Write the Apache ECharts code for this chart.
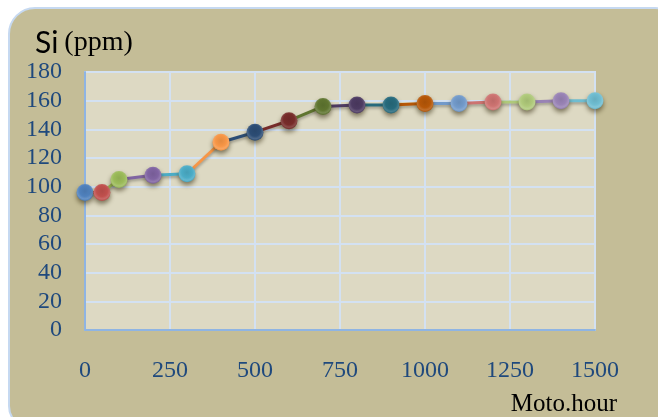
<!DOCTYPE html>
<html>
<head>
<meta charset="utf-8">
<script src="https://cdn.jsdelivr.net/npm/echarts@6/dist/echarts.min.js"></script>
<style>
  html, body { margin: 0; padding: 0; background: #ffffff; }
  #chart { width: 658px; height: 417px; }
</style>
</head>
<body>
<div id="chart"></div>
<script>
// Engine running hours and silicon concentration in the oil sample
const hours = [0, 50, 100, 200, 300, 400, 500, 600, 700, 800, 900, 1000, 1100, 1200, 1300, 1400, 1500];
const si = [96, 96, 105, 108, 109, 131, 138, 146, 156, 157, 157, 158, 158, 159, 159, 160, 160];
const xTicks = [0, 250, 500, 750, 1000, 1250, 1500];
const yTicks = [0, 20, 40, 60, 80, 100, 120, 140, 160, 180];

// Office palette, one colour per sample point
const pointColors = [
  '#4F81BD', '#C0504D', '#9BBB59', '#8064A2', '#4BACC6', '#F79646',
  '#2C4D75', '#772C2A', '#5F7530', '#4D3B62', '#276A7C', '#B65708',
  '#729ACA', '#CD7371', '#AFC97A', '#9983B5', '#6FBDD1'
];

function shade(hex, f) {
  const n = parseInt(hex.slice(1), 16);
  let r = (n >> 16) & 255, g = (n >> 8) & 255, b = n & 255;
  if (f >= 0) { r += (255 - r) * f; g += (255 - g) * f; b += (255 - b) * f; }
  else { r *= 1 + f; g *= 1 + f; b *= 1 + f; }
  return 'rgb(' + Math.round(r) + ',' + Math.round(g) + ',' + Math.round(b) + ')';
}

const chart = echarts.init(document.getElementById('chart'), null, { renderer: 'canvas' });

const series = [];
// each segment takes the colour of the point it ends on
for (let i = 1; i < hours.length; i++) {
  series.push({
    type: 'line',
    data: [[hours[i - 1], si[i - 1]], [hours[i], si[i]]],
    symbol: 'none',
    silent: true,
    z: 2,
    lineStyle: {
      color: pointColors[i], width: 3,
      shadowColor: 'rgba(0,0,0,0.3)', shadowBlur: 3, shadowOffsetY: 2
    }
  });
}
series.push({
  type: 'scatter',
  symbolSize: 17,
  z: 3,
  data: hours.map((h, i) => ({
    value: [h, si[i]],
    itemStyle: {
      opacity: 1,
      color: {
        type: 'radial', x: 0.5, y: 0.42, r: 0.58,
        colorStops: [
          { offset: 0, color: shade(pointColors[i], -0.08) },
          { offset: 0.55, color: shade(pointColors[i], 0) },
          { offset: 0.8, color: shade(pointColors[i], 0.15) },
          { offset: 1, color: shade(pointColors[i], -0.05) }
        ]
      },
      shadowColor: 'rgba(40,30,0,0.55)', shadowBlur: 5, shadowOffsetY: 3
    }
  }))
});

const option = {
  animation: false,
  graphic: [{
    type: 'rect',
    z: -10,
    shape: { x: 9, y: 8, width: 660, height: 420, r: [26, 14, 14, 22] },
    style: { fill: '#C4BD97', stroke: '#C6D9F1', lineWidth: 2 }
  }, {
    type: 'text',
    left: 35, top: 28,
    style: {
      text: '{a|Si}{s| }{b|(ppm)}',
      rich: {
        a: { fontFamily: 'Lato', fontSize: 30, fill: '#000000' },
        s: { fontFamily: 'Liberation Serif', fontSize: 28, width: 6 },
        b: { fontFamily: 'Liberation Serif', fontSize: 28, fill: '#000000' }
      }
    }
  }, {
    type: 'text',
    right: 41, top: 392,
    style: { text: 'Moto.hour', fontFamily: 'Liberation Serif', fontSize: 25, fill: '#000000' }
  }],
  grid: {
    left: 85, right: 63, top: 72, bottom: 87,
    show: true, backgroundColor: '#DDD9C3', borderColor: '#D3E1F2', borderWidth: 2
  },
  xAxis: {
    type: 'value',
    min: xTicks[0], max: xTicks[xTicks.length - 1], interval: 250,
    axisLine: { lineStyle: { color: '#8EB4E3', width: 2 } },
    axisTick: { show: false },
    axisLabel: {
      margin: 29, fontFamily: 'Liberation Serif', fontSize: 24, color: '#1F497D',
      formatter: v => String(v)
    },
    splitLine: { lineStyle: { color: '#D3E1F2', width: 2 } }
  },
  yAxis: {
    type: 'value',
    min: yTicks[0], max: yTicks[yTicks.length - 1], interval: 20,
    axisLine: { show: true, lineStyle: { color: '#8EB4E3', width: 2 } },
    axisTick: { show: false },
    axisLabel: {
      margin: 23, fontFamily: 'Liberation Serif', fontSize: 24, color: '#1F497D',
      formatter: v => String(v)
    },
    splitLine: { lineStyle: { color: '#D3E1F2', width: 2 } }
  },
  series: series
};
chart.setOption(option);
</script>
</body>
</html>
